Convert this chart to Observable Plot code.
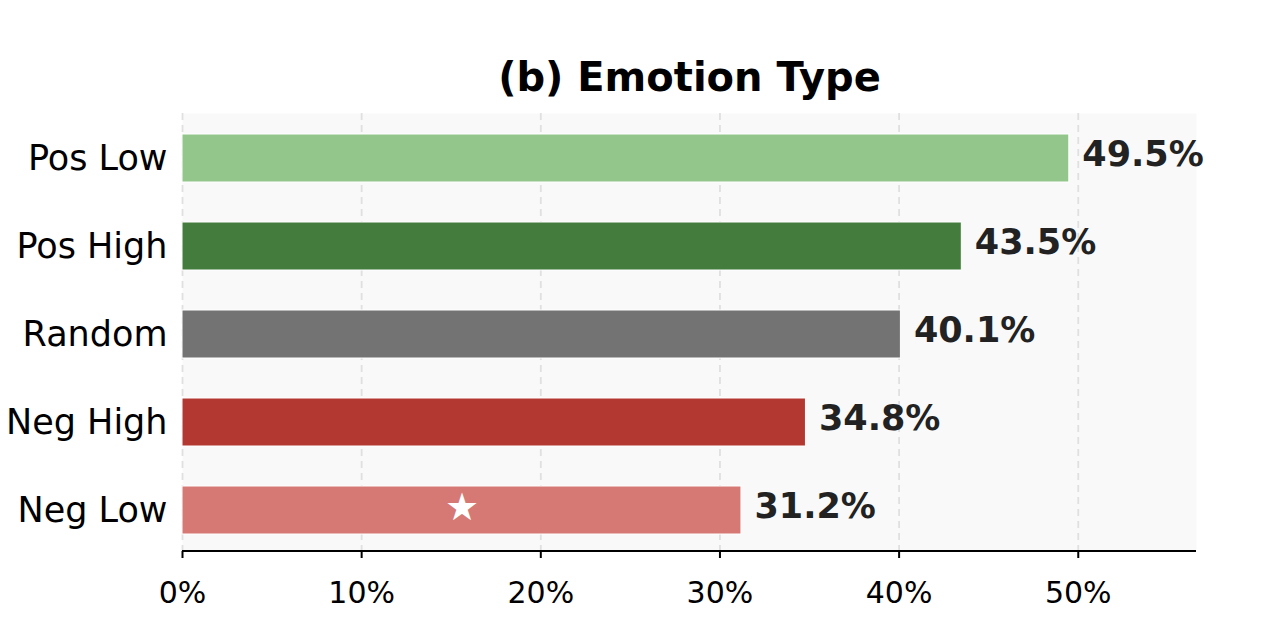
<!DOCTYPE html>
<html>
<head>
<meta charset="utf-8">
<script src="https://cdn.jsdelivr.net/npm/d3@7"></script>
<script src="https://cdn.jsdelivr.net/npm/@observablehq/plot@0.6"></script>
<style>
  html, body { margin: 0; padding: 0; background: #fff; }
  #chart svg { display: block; font-family: "DejaVu Sans", sans-serif; }
</style>
</head>
<body>
<div id="chart"></div>
<script>
// Emotion type categories, top to bottom
const categories = ["Pos Low", "Pos High", "Random", "Neg High", "Neg Low"];
// Share per category (%)
const values = [49.5, 43.5, 40.1, 34.8, 31.2];
// Bar fills
const colors = ["#93c68b", "#447c3d", "#737373", "#b43832", "#d67874"];
// Category flagged with a star
const starred = ["Neg Low"];
// x-axis ticks (%)
const xTicks = [0, 10, 20, 30, 40, 50];
const title = "(b) Emotion Type";

const rows = categories.map((c, i) => ({category: c, value: values[i], color: colors[i]}));

// Horizontal baseline along the bottom of the frame
const baseline = (index, scales, values, dims) => {
  const g = d3.create("svg:line")
    .attr("x1", dims.marginLeft)
    .attr("x2", dims.width - dims.marginRight)
    .attr("y1", dims.height - dims.marginBottom)
    .attr("y2", dims.height - dims.marginBottom)
    .attr("stroke", "#000")
    .attr("stroke-width", 2);
  return g.node();
};

const chart = Plot.plot({
  width: 1264,
  height: 640,
  marginLeft: 182,
  marginRight: 68,
  marginTop: 113,
  marginBottom: 89,
  style: {fontFamily: "DejaVu Sans, sans-serif", background: "#fff"},
  x: {domain: [0, 56.6], label: null},
  y: {domain: categories, paddingInner: 0.455, paddingOuter: 0.216, align: 0.55, label: null},
  color: {type: "identity"},
  marks: [
    Plot.frame({fill: "#f9f9f9", stroke: null}),
    Plot.ruleX(xTicks, {stroke: "#e0e0e0", strokeWidth: 1.8, strokeDasharray: "7,5"}),
    Plot.barX(rows, {x: "value", y: "category", fill: "color", stroke: "#fff", strokeWidth: 1}),
    Plot.text(rows.filter(d => starred.includes(d.category)), {
      x: d => d.value / 2, y: "category", text: () => "★",
      fill: "#fff", fontSize: 38, dy: -3
    }),
    Plot.text(rows, {
      x: "value", y: "category", text: d => d.value.toFixed(1) + "%",
      textAnchor: "start", dx: 13, dy: -4,
      fontSize: 35, fontWeight: "bold", fill: "#222"
    }),
    Plot.axisX({
      ticks: xTicks, tickFormat: d => d + "%", tickSize: 7, tickPadding: 23,
      strokeWidth: 2, stroke: "#000", fill: "#000", fontSize: 30, label: null
    }),
    Plot.axisY({tickSize: 0, tickPadding: 15, fontSize: 35, fill: "#000", label: null}),
    baseline,
    Plot.text([title], {
      frameAnchor: "top", dy: -51, fontSize: 40, fontWeight: "bold", fill: "#000"
    })
  ]
});

document.getElementById("chart").append(chart);
</script>
</body>
</html>
